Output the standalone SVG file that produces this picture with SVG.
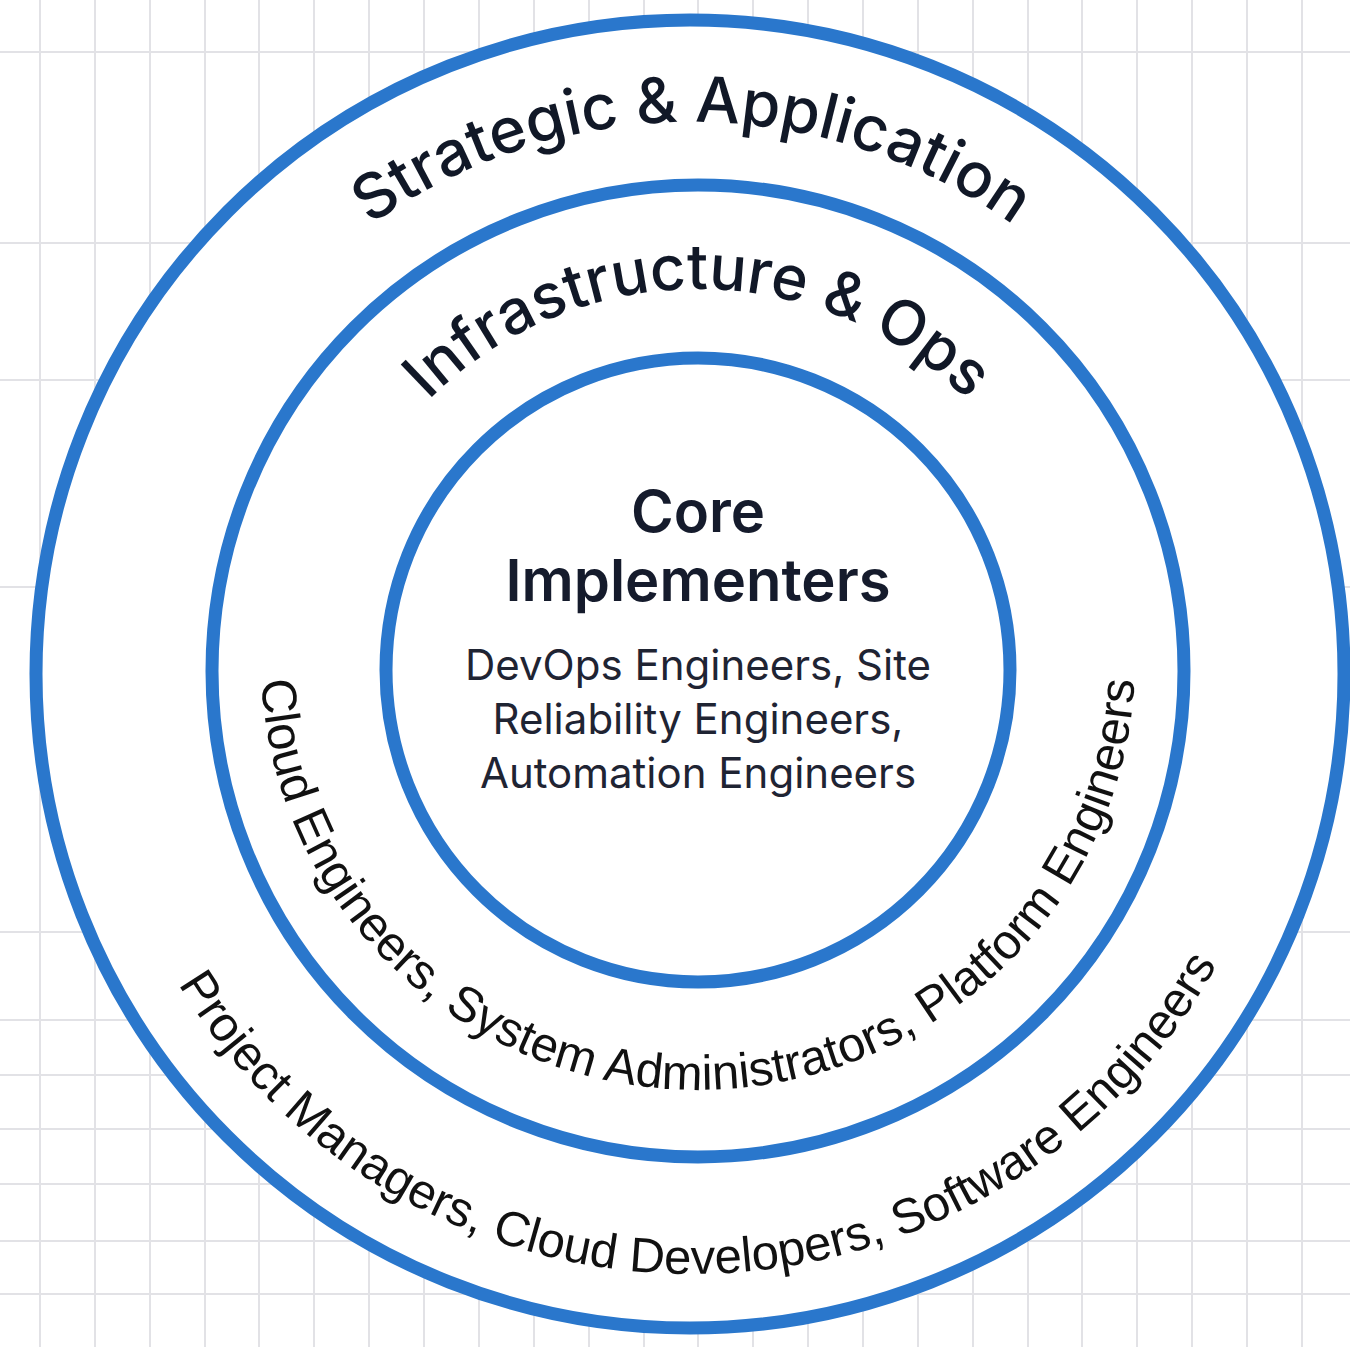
<svg xmlns="http://www.w3.org/2000/svg" width="1350" height="1347" viewBox="0 0 1350 1347">
<style>
.grid line{stroke:#e2e2e6;stroke-width:2}
.ring{fill:#ffffff;stroke:#2a77cc;stroke-width:13}
.arcTop{font-family:Inter,"Liberation Sans",sans-serif;font-weight:500;fill:#111827}
.arcBot{font-family:"Liberation Sans",Arial,sans-serif;font-weight:400;fill:#111111}
.title{font-family:Inter,"Liberation Sans",sans-serif;font-weight:600;font-size:58px;fill:#151b2c;text-anchor:middle}
.body{font-family:Inter,"Liberation Sans",sans-serif;font-weight:400;font-size:42px;fill:#1f2433;text-anchor:middle}
</style>
<defs>
<path id="pStrat" d="M 140 674 A 552 552 0 0 1 1244 674"/>
<path id="pInfra" d="M 316 671 A 382 382 0 0 1 1080 671"/>
<path id="pCloud" d="M 267.6 585.3 A 437 430 0 1 0 1128.4 585.3"/>
<path id="pProj" d="M 92 674 A 600 600 0 0 0 1292 674"/>
</defs>
<rect width="1350" height="1347" fill="#ffffff"/>
<g class="grid" id="grid">
<line x1="40" y1="0" x2="40" y2="1347"/><line x1="95" y1="0" x2="95" y2="1347"/><line x1="150" y1="0" x2="150" y2="1347"/><line x1="205" y1="0" x2="205" y2="1347"/><line x1="259" y1="0" x2="259" y2="1347"/><line x1="314" y1="0" x2="314" y2="1347"/><line x1="369" y1="0" x2="369" y2="1347"/><line x1="424" y1="0" x2="424" y2="1347"/><line x1="479" y1="0" x2="479" y2="1347"/><line x1="534" y1="0" x2="534" y2="1347"/><line x1="589" y1="0" x2="589" y2="1347"/><line x1="644" y1="0" x2="644" y2="1347"/><line x1="698" y1="0" x2="698" y2="1347"/><line x1="753" y1="0" x2="753" y2="1347"/><line x1="808" y1="0" x2="808" y2="1347"/><line x1="863" y1="0" x2="863" y2="1347"/><line x1="918" y1="0" x2="918" y2="1347"/><line x1="973" y1="0" x2="973" y2="1347"/><line x1="1028" y1="0" x2="1028" y2="1347"/><line x1="1082" y1="0" x2="1082" y2="1347"/><line x1="1137" y1="0" x2="1137" y2="1347"/><line x1="1192" y1="0" x2="1192" y2="1347"/><line x1="1247" y1="0" x2="1247" y2="1347"/><line x1="1302" y1="0" x2="1302" y2="1347"/>
<line x1="0" y1="52" x2="1350" y2="52"/><line x1="0" y1="243" x2="1350" y2="243"/><line x1="0" y1="380" x2="1350" y2="380"/><line x1="0" y1="587" x2="1350" y2="587"/><line x1="0" y1="932" x2="1350" y2="932"/><line x1="0" y1="1020" x2="1350" y2="1020"/><line x1="0" y1="1075" x2="1350" y2="1075"/><line x1="0" y1="1129" x2="1350" y2="1129"/><line x1="0" y1="1184" x2="1350" y2="1184"/><line x1="0" y1="1241" x2="1350" y2="1241"/><line x1="0" y1="1294" x2="1350" y2="1294"/>
</g>
<g id="ring-outer">
<circle class="ring" cx="690" cy="674" r="654"/>
<text class="arcTop" font-size="63"><textPath href="#pStrat" startOffset="50%" text-anchor="middle">Strategic &amp; Application</textPath></text>
<text class="arcBot" font-size="49"><textPath href="#pProj" startOffset="50.6%" text-anchor="middle">Project Managers, Cloud Developers, Software Engineers</textPath></text>
</g>
<g id="ring-middle">
<circle class="ring" cx="698" cy="671" r="486"/>
<text class="arcTop" font-size="62"><textPath href="#pInfra" startOffset="50%" text-anchor="middle">Infrastructure &amp; Ops</textPath></text>
<text class="arcBot" font-size="49"><textPath href="#pCloud" startOffset="50%" text-anchor="middle">Cloud Engineers, System Administrators, Platform Engineers</textPath></text>
</g>
<g id="ring-inner">
<circle class="ring" cx="698" cy="670" r="312"/>
<text class="title" x="698" y="532">Core</text>
<text class="title" x="698" y="601">Implementers</text>
<text class="body" x="698" y="680">DevOps Engineers, Site</text>
<text class="body" x="698" y="734">Reliability Engineers,</text>
<text class="body" x="698" y="788">Automation Engineers</text>
</g>
</svg>
